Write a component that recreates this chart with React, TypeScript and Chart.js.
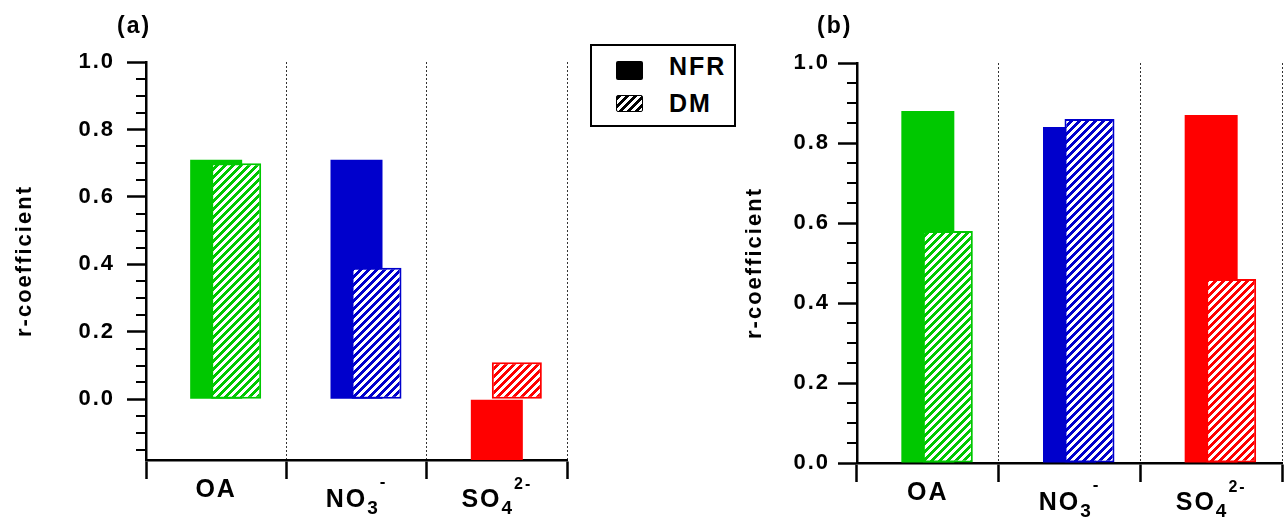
import React, { useEffect, useRef } from 'react';
import { Chart, registerables } from 'chart.js';

Chart.register(...registerables);

// ---------------- data ----------------
const categories = ['OA', 'NO3-', 'SO42-'];
const seriesNames = ['NFR', 'DM'];
const nfrA = [0.71, 0.71, -0.18];
const dmA = [0.70, 0.39, 0.11];
const nfrB = [0.88, 0.84, 0.87];
const dmB = [0.58, 0.86, 0.46];
const yMajorTicks = [0.0, 0.2, 0.4, 0.6, 0.8, 1.0];
const yMinorStep = 0.05;
const panelTitles = ['(a)', '(b)'];
const yAxisTitle = 'r-coefficient';

// ---------------- style ----------------
const FONT = "'Liberation Sans', Arial, Helvetica, sans-serif";
const barColors = ['#00c800', '#0000cc', '#ff0000'];

// rich x labels (sub/superscripts); dy = baseline offset below the axis line
const xLabelParts = [
  [{ text: 'OA', size: 25, dy: 37 }],
  [
    { text: 'NO', size: 25, dy: 47 },
    { text: '3', size: 19, dy: 54 },
    { text: '-', size: 17, dy: 27 },
  ],
  [
    { text: 'SO', size: 25, dy: 47 },
    { text: '4', size: 19, dy: 54 },
    { text: '2-', size: 16, dy: 29 },
  ],
];

type Panel = {
  nfr: number[];
  dm: number[];
  yMin: number;
  canvasW: number;
  areaLeft: number;
  areaRight: number;
  areaTop: number;
  areaBottom: number;
  tickPad: number;
  chunk: number;
  nfrW: number;
  dmW: number;
  catW: number;
};

const panelA: Panel = {
  nfr: nfrA, dm: dmA, yMin: -0.18, canvasW: 740,
  areaLeft: 146, areaRight: 567, areaTop: 62, areaBottom: 460,
  tickPad: 12, chunk: 20, nfrW: 52, dmW: 50, catW: 140.3,
};
const panelB: Panel = {
  nfr: nfrB, dm: dmB, yMin: 0, canvasW: 554,
  areaLeft: 127, areaRight: 552, areaTop: 63, areaBottom: 463,
  tickPad: 8, chunk: 20, nfrW: 53, dmW: 50, catW: 141.7,
};

function makeHatch(ctx: CanvasRenderingContext2D, color: string) {
  const size = 8;
  const c = document.createElement('canvas');
  c.width = size;
  c.height = size;
  const cx = c.getContext('2d')!;
  cx.fillStyle = color;
  cx.fillRect(0, 0, size, size);
  cx.fillStyle = '#ffffff';
  for (let y = 0; y < size; y++) {
    for (let x = 0; x < size; x++) {
      if ((x + y) % size < 4) cx.fillRect(x, y, 1, 1);
    }
  }
  return ctx.createPattern(c, 'repeat');
}

const spacingPlugin = {
  id: 'spacing',
  beforeDraw(chart: any) {
    try { (chart.ctx as any).letterSpacing = '2px'; } catch (e) { /* ignore */ }
  },
};

const minorTicksPlugin = {
  id: 'minorTicks',
  afterDraw(chart: any) {
    const ys = chart.scales.y;
    const ctx = chart.ctx;
    const x0 = chart.chartArea.left;
    ctx.save();
    ctx.strokeStyle = '#000';
    ctx.lineWidth = 2;
    const start = Math.ceil(ys.min / yMinorStep - 1e-6);
    const end = Math.floor(ys.max / yMinorStep + 1e-6);
    for (let k = start; k <= end; k++) {
      const v = k * yMinorStep;
      const isMajor = yMajorTicks.some((m) => Math.abs(m - v) < 1e-6);
      if (isMajor) continue;
      const y = Math.round(ys.getPixelForValue(v));
      ctx.beginPath();
      ctx.moveTo(x0 - 10, y);
      ctx.lineTo(x0, y);
      ctx.stroke();
    }
    ctx.restore();
  },
};

const xRichLabelsPlugin = {
  id: 'xRichLabels',
  afterDraw(chart: any) {
    const xs = chart.scales.x;
    const ctx = chart.ctx;
    ctx.save();
    try { ctx.letterSpacing = '2px'; } catch (e) { /* ignore */ }
    ctx.fillStyle = '#000';
    ctx.textAlign = 'left';
    ctx.textBaseline = 'alphabetic';
    xLabelParts.forEach((parts, i) => {
      const widths = parts.map((p) => {
        ctx.font = `bold ${p.size}px ${FONT}`;
        return ctx.measureText(p.text).width;
      });
      const total = widths.reduce((a, b) => a + b, 0);
      let x = xs.getPixelForValue(i) - total / 2;
      parts.forEach((p, k) => {
        ctx.font = `bold ${p.size}px ${FONT}`;
        ctx.fillText(p.text, x, xs.top + p.dy);
        x += widths[k];
      });
    });
    ctx.restore();
  },
};

const DM_INDEX = 2;
const dmOnTopPlugin = {
  id: 'dmOnTop',
  beforeDatasetDraw(_chart: any, args: any) {
    if (args.index === DM_INDEX) return false;
    return undefined;
  },
  afterDatasetsDraw(chart: any) {
    const meta = chart.getDatasetMeta(DM_INDEX);
    const a = chart.chartArea;
    const ctx = chart.ctx;
    ctx.save();
    ctx.beginPath();
    ctx.rect(a.left, a.top, a.right - a.left, a.bottom - a.top);
    ctx.clip();
    meta.controller.draw();
    ctx.restore();
  },
};

function buildChart(canvas: HTMLCanvasElement, p: Panel) {
  const ctx = canvas.getContext('2d')!;
  const catPct = (3 * p.chunk) / p.catW;
  const hatches = barColors.map((c) => makeHatch(ctx, c));
  return new Chart(ctx, {
    type: 'bar',
    data: {
      labels: categories,
      datasets: [
        { label: '', data: categories.map(() => null) as any, categoryPercentage: catPct, barPercentage: 1 },
        {
          label: seriesNames[0],
          data: p.nfr,
          backgroundColor: barColors,
          borderWidth: 0,
          categoryPercentage: catPct,
          barPercentage: p.nfrW / p.chunk,
        },
        {
          label: seriesNames[1],
          data: p.dm,
          backgroundColor: hatches as any,
          borderColor: barColors,
          borderWidth: 2,
          borderSkipped: false,
          categoryPercentage: catPct,
          barPercentage: p.dmW / p.chunk,
        },
      ],
    },
    options: {
      responsive: false,
      animation: false,
      devicePixelRatio: 1,
      layout: {
        padding: { left: 0, top: p.areaTop, right: p.canvasW - p.areaRight, bottom: 0 },
      },
      plugins: { legend: { display: false }, tooltip: { enabled: false } },
      scales: {
        x: {
          type: 'category',
          offset: true,
          afterFit: (s: any) => { s.height = 520 - p.areaBottom; },
          ticks: { display: false },
          grid: {
            offset: true,
            drawOnChartArea: true,
            drawTicks: true,
            tickLength: 19,
            tickWidth: 2.5,
            tickColor: '#000',
            lineWidth: 1,
            color: (c: any) => (c.index === 0 ? 'rgba(0,0,0,0)' : '#333'),
          },
          border: { display: true, color: '#000', width: 2.5, dash: [2, 2] },
        },
        y: {
          type: 'linear',
          min: p.yMin,
          max: 1,
          afterFit: (s: any) => { s.width = p.areaLeft; },
          afterBuildTicks: (s: any) => {
            s.ticks = yMajorTicks
              .filter((v) => v >= s.min - 1e-9 && v <= s.max + 1e-9)
              .map((v) => ({ value: v }));
          },
          ticks: {
            callback: (v: any) => Number(v).toFixed(1),
            color: '#000',
            padding: p.tickPad,
            font: { family: FONT, size: 22, weight: 'bold' },
          },
          grid: {
            drawOnChartArea: false,
            drawTicks: true,
            tickLength: 19,
            tickWidth: 2.5,
            tickColor: '#000',
            color: '#000',
          },
          border: { display: true, color: '#000', width: 2.5 },
          title: {
            display: true,
            text: yAxisTitle,
            color: '#000',
            font: { family: FONT, size: 22, weight: 'bold' },
            padding: { top: 12, bottom: 0 },
          },
        },
      },
    },
    plugins: [spacingPlugin, minorTicksPlugin, xRichLabelsPlugin, dmOnTopPlugin],
  } as any);
}

const textBase: React.CSSProperties = {
  position: 'absolute',
  fontFamily: FONT,
  fontWeight: 'bold',
  color: '#000',
  letterSpacing: '2px',
  whiteSpace: 'nowrap',
};

export default function App() {
  const refA = useRef<HTMLCanvasElement>(null);
  const refB = useRef<HTMLCanvasElement>(null);

  useEffect(() => {
    const a = buildChart(refA.current!, panelA);
    const b = buildChart(refB.current!, panelB);
    return () => {
      a.destroy();
      b.destroy();
    };
  }, []);

  return (
    <div
      style={{
        position: 'absolute', left: 0, top: 0, width: 1284, height: 520,
        background: '#fff', overflow: 'hidden',
      }}
    >
      <canvas
        ref={refA}
        width={panelA.canvasW}
        height={520}
        style={{ position: 'absolute', left: 0, top: 0, width: panelA.canvasW, height: 520 }}
      />
      <canvas
        ref={refB}
        width={panelB.canvasW}
        height={520}
        style={{ position: 'absolute', left: 730, top: 0, width: panelB.canvasW, height: 520 }}
      />
      <div style={{ ...textBase, left: 117, top: 14, fontSize: 23, lineHeight: '23px' }}>{panelTitles[0]}</div>
      <div style={{ ...textBase, left: 817, top: 14, fontSize: 23, lineHeight: '23px' }}>{panelTitles[1]}</div>

      {/* legend */}
      <div
        style={{
          position: 'absolute', left: 590, top: 44, width: 146, height: 83,
          border: '2px solid #000', boxSizing: 'border-box', background: '#fff',
        }}
      />
      <div
        style={{
          position: 'absolute', left: 616, top: 61, width: 27, height: 19,
          background: '#000', borderRadius: 2,
        }}
      />
      <div
        style={{
          position: 'absolute', left: 616, top: 95, width: 27, height: 17,
          boxSizing: 'border-box', border: '1.5px solid #000', borderRadius: 2,
          background: 'repeating-linear-gradient(135deg, #000 0px, #000 3px, #fff 3px, #fff 5.7px)',
        }}
      />
      <div style={{ ...textBase, left: 669, top: 54, fontSize: 25, lineHeight: '25px' }}>{seriesNames[0]}</div>
      <div style={{ ...textBase, left: 669, top: 91, fontSize: 25, lineHeight: '25px' }}>{seriesNames[1]}</div>
    </div>
  );
}
